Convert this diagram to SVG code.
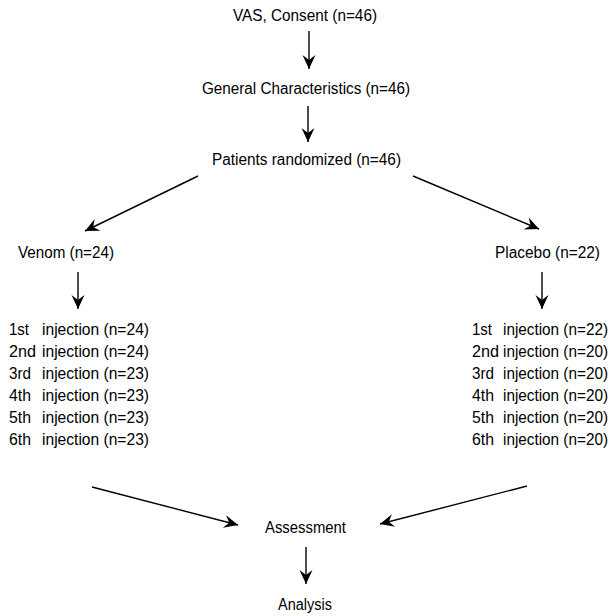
<svg xmlns="http://www.w3.org/2000/svg" width="613" height="616" viewBox="0 0 613 616">
<defs>
<style>
text{font-family:"Liberation Sans","DejaVu Sans",sans-serif;font-size:16px;fill:#000}
.ln{stroke:#000;stroke-width:1.4;fill:none;marker-end:url(#ah)}
</style>
<marker id="ah" markerUnits="userSpaceOnUse" markerWidth="18" markerHeight="18" viewBox="-16 -8 18 16" refX="0" refY="0" orient="auto">
<path d="M0,0 L-14,-6.5 L-9,0 L-14,6.5 Z" fill="#000"/>
</marker>
</defs>
<rect width="613" height="616" fill="#fff"/>
<g id="connectors">
<line class="ln" x1="309" y1="31" x2="309" y2="69"/>
<line class="ln" x1="308" y1="106" x2="308" y2="142"/>
<line class="ln" x1="198" y1="176" x2="85" y2="231"/>
<line class="ln" x1="413" y1="176" x2="539" y2="229"/>
<line class="ln" x1="78" y1="272" x2="78" y2="309"/>
<line class="ln" x1="542" y1="272" x2="542" y2="309"/>
<line class="ln" x1="92" y1="487" x2="238" y2="525"/>
<line class="ln" x1="527" y1="486" x2="380" y2="524"/>
<line class="ln" x1="306" y1="547" x2="306" y2="584"/>
</g>
<g id="vas"><text x="233" y="21" textLength="144" lengthAdjust="spacingAndGlyphs">VAS, Consent (n=46)</text></g>
<g id="general"><text x="202" y="94" textLength="208" lengthAdjust="spacingAndGlyphs">General Characteristics (n=46)</text></g>
<g id="randomized"><text x="212" y="165" textLength="189" lengthAdjust="spacingAndGlyphs">Patients randomized (n=46)</text></g>
<g id="venom"><text x="18" y="258" textLength="96" lengthAdjust="spacingAndGlyphs">Venom (n=24)</text></g>
<g id="placebo"><text x="495" y="258" textLength="105" lengthAdjust="spacingAndGlyphs">Placebo (n=22)</text></g>
<g id="venom-injections">
<text x="9" y="335" textLength="20" lengthAdjust="spacingAndGlyphs">1st</text><text x="42" y="335" textLength="107" lengthAdjust="spacingAndGlyphs">injection (n=24)</text>
<text x="9" y="357" textLength="27" lengthAdjust="spacingAndGlyphs">2nd</text><text x="42" y="357" textLength="107" lengthAdjust="spacingAndGlyphs">injection (n=24)</text>
<text x="9" y="379" textLength="22" lengthAdjust="spacingAndGlyphs">3rd</text><text x="42" y="379" textLength="107" lengthAdjust="spacingAndGlyphs">injection (n=23)</text>
<text x="9" y="401" textLength="22" lengthAdjust="spacingAndGlyphs">4th</text><text x="42" y="401" textLength="107" lengthAdjust="spacingAndGlyphs">injection (n=23)</text>
<text x="9" y="423" textLength="22" lengthAdjust="spacingAndGlyphs">5th</text><text x="42" y="423" textLength="107" lengthAdjust="spacingAndGlyphs">injection (n=23)</text>
<text x="9" y="445" textLength="22" lengthAdjust="spacingAndGlyphs">6th</text><text x="42" y="445" textLength="107" lengthAdjust="spacingAndGlyphs">injection (n=23)</text>
</g>
<g id="placebo-injections">
<text x="472" y="335" textLength="20" lengthAdjust="spacingAndGlyphs">1st</text><text x="503" y="335" textLength="105" lengthAdjust="spacingAndGlyphs">injection (n=22)</text>
<text x="472" y="357" textLength="27" lengthAdjust="spacingAndGlyphs">2nd</text><text x="503" y="357" textLength="105" lengthAdjust="spacingAndGlyphs">injection (n=20)</text>
<text x="472" y="379" textLength="22" lengthAdjust="spacingAndGlyphs">3rd</text><text x="503" y="379" textLength="105" lengthAdjust="spacingAndGlyphs">injection (n=20)</text>
<text x="472" y="401" textLength="22" lengthAdjust="spacingAndGlyphs">4th</text><text x="503" y="401" textLength="105" lengthAdjust="spacingAndGlyphs">injection (n=20)</text>
<text x="472" y="423" textLength="22" lengthAdjust="spacingAndGlyphs">5th</text><text x="503" y="423" textLength="105" lengthAdjust="spacingAndGlyphs">injection (n=20)</text>
<text x="472" y="445" textLength="22" lengthAdjust="spacingAndGlyphs">6th</text><text x="503" y="445" textLength="105" lengthAdjust="spacingAndGlyphs">injection (n=20)</text>
</g>
<g id="assessment"><text x="265" y="533" textLength="81" lengthAdjust="spacingAndGlyphs">Assessment</text></g>
<g id="analysis"><text x="278" y="610" textLength="54" lengthAdjust="spacingAndGlyphs">Analysis</text></g>
</svg>
